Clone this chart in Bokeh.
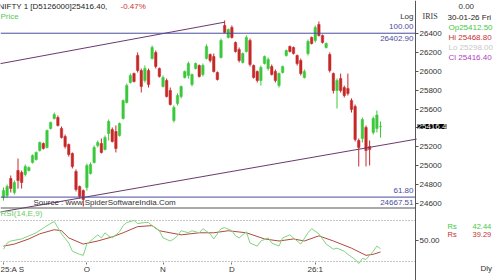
from bokeh.plotting import figure
from bokeh.models import Range1d, LinearAxis, FixedTicker, Label, ColumnDataSource
from bokeh.embed import file_html
from bokeh.resources import INLINE

# ---------------- data ----------------
opens = [24663, 24684, 24864, 24716, 24949, 24928, 24907, 24949, 25034, 25066,
         25161, 25235, 25193, 25394, 25500, 25510, 25394, 25309, 25225, 25129,
         24939, 24780, 24737, 24769, 24917, 25034, 25214, 25235, 25172, 25341,
         25383, 25362, 25320, 25500, 25669, 25881, 25976, 26167, 26008, 25902,
         26008, 26135, 26199, 26029, 25839, 25902, 25796, 25479, 25659, 25733,
         25934, 25955, 25860, 26029, 26061, 25966, 26135, 26178, 26156, 25987,
         26146, 26485, 26358, 26464, 26305, 26231, 26093, 26209, 26326, 26061,
         25998, 25902, 26082, 26029, 26050, 25998, 25849, 25987, 26167, 26262,
         26252, 26167, 26114, 25934, 26188, 26358, 26326, 26495, 26379, 26252,
         26178, 25976, 25796, 25923, 25828, 25818, 25690, 25627, 25267, 25288,
         25405, 25203, 25352, 25394, 25412.5]
highs = [24769, 24801, 24896, 24843, 25076, 24949, 25013, 24992, 25119, 25150,
         25256, 25246, 25383, 25468, 25563, 25532, 25415, 25330, 25235, 25140,
         24960, 24790, 24748, 25023, 25034, 25214, 25267, 25288, 25320, 25489,
         25405, 25426, 25457, 25701, 25870, 25976, 25987, 26199, 26029, 26061,
         26029, 26273, 26220, 26040, 25955, 25923, 25828, 25638, 25765, 25849,
         26008, 26103, 25976, 26093, 26072, 26082, 26284, 26188, 26188, 25998,
         26347, 26538, 26453, 26485, 26315, 26252, 26199, 26379, 26347, 26072,
         26008, 26061, 26167, 26146, 26072, 26019, 25987, 26061, 26231, 26273,
         26262, 26178, 26135, 26019, 26336, 26368, 26485, 26527, 26389, 26305,
         26199, 25987, 25923, 25976, 25849, 25976, 25712, 25648, 25288, 25510,
         25426, 25267, 25521, 25585, 25468.8]
lows = [24631, 24663, 24716, 24695, 24758, 24758, 24886, 24939, 25023, 25055,
        25150, 25172, 25182, 25383, 25489, 25415, 25288, 25182, 25097, 24971,
        24727, 24652, 24568, 24737, 24907, 25023, 25193, 25129, 25161, 25267,
        25246, 25140, 25309, 25489, 25659, 25870, 25881, 25987, 25775, 25881,
        25828, 26125, 26029, 25934, 25828, 25722, 25638, 25457, 25638, 25712,
        25923, 25923, 25839, 26019, 25934, 25945, 26125, 26093, 25987, 25902,
        26135, 26400, 26347, 26347, 26199, 26093, 26082, 26199, 26050, 25923,
        25881, 25849, 26072, 26008, 25955, 25881, 25828, 25976, 26156, 26199,
        26178, 26061, 25955, 25923, 26167, 26284, 26305, 26368, 26294, 26241,
        25987, 25765, 25606, 25775, 25722, 25743, 25563, 25256, 24992, 25246,
        24992, 25002, 25330, 25352, 25298]
closes = [24737, 24780, 24758, 24822, 24843, 24822, 24992, 24981, 25108, 25140,
          25246, 25182, 25373, 25457, 25542, 25426, 25299, 25203, 25119, 24992,
          24748, 24674, 24642, 25002, 25013, 25193, 25246, 25140, 25299, 25468,
          25256, 25182, 25447, 25690, 25849, 25955, 25892, 26008, 25839, 26029,
          25860, 26252, 26050, 25945, 25934, 25733, 25648, 25616, 25743, 25839,
          25998, 26082, 25966, 26082, 25945, 26061, 26262, 26114, 25998, 25913,
          26326, 26411, 26442, 26358, 26209, 26114, 26188, 26358, 26072, 25934,
          25902, 26040, 26156, 26125, 25966, 25902, 25976, 26050, 26220, 26209,
          26188, 26082, 25976, 25998, 26315, 26294, 26464, 26379, 26305, 26294,
          26008, 25796, 25902, 25796, 25743, 25765, 25595, 25277, 25193, 25489,
          25161, 25172, 25500, 25536, 25416.4]

# RSI(14) and its EMA(9) signal, read at day indices
rsi_day = [0, 1, 2, 5, 7, 9, 12, 14, 15, 16, 18, 19, 21, 22, 23, 25, 26, 27, 28, 29,
           30, 32, 33, 34, 36, 37, 39, 40, 41, 43, 44, 46, 47, 48, 49, 51, 52, 54, 55, 57,
           58, 60, 61, 63, 64, 65, 67, 68, 70, 71, 73, 74, 76, 77, 79, 80, 81, 82, 84, 85,
           87, 88, 89, 91, 92, 94, 95, 97, 98, 99, 100, 102, 103, 104]
rsi_val = [42, 48, 50, 52, 55, 58, 65, 69, 63, 57, 48, 40, 37, 36, 47, 53, 56, 53, 58, 55,
           53, 59, 65, 68, 70, 67, 68, 68, 65, 60, 53, 50, 52, 55, 60, 58, 60, 58, 62, 57,
           52, 62, 63, 60, 55, 53, 59, 48, 45, 50, 53, 48, 45, 53, 56, 53, 50, 47, 58, 62,
           57, 52, 47, 42, 43, 40, 37, 32, 28, 33, 32, 40, 45, 42.44]
sig_day = [0, 3, 7, 10, 14, 16, 18, 22, 26, 30, 33, 37, 41, 43, 49, 54, 58, 62, 67, 72,
           76, 80, 83, 87, 91, 96, 100, 102, 104]
sig_val = [45, 47, 52, 57, 61, 60, 53, 47, 50, 54, 58, 64, 65, 60, 56, 58, 58, 60, 58, 52,
           50, 52, 50, 55, 50, 43, 36, 37, 39.29]
rsi_levels = [70, 30]

# trend lines (day index, price)
upper_day = [-1, 61]
upper_px = [26080, 26520]
lower_day = [-1, 114]
lower_px = [24509, 25282]

# Fibonacci levels
fib_levels = [26402.90, 24667.51]
fib_pct = ["100.00", "61.80"]

price_ticks = [24600, 24800, 25000, 25200, 25400, 25600, 25800, 26000, 26200, 26400]
hidden_tick = 25400   # its label sits under the last-price marker
month_pos = [0, 23, 44, 63, 86]
month_lab = ["25:A S", "O", "N", "D", "26:1"]

# ---------------- layout constants ----------------
W, H = 500, 280
X_LEFT, X_RIGHT = -0.83, 137.1        # day-index span of the whole canvas
AXIS_DAY = 113.66                      # where the price scale sits (x = 415 px)
PRICE_RANGE = (23784.3, 26749.5)
RSI_RANGE = (11.46, 284.63)
PANEL_BOTTOM_PRICE = 23953.7           # bottom of the indicator pane (y = 264 px)
SEPARATOR_PRICE = 24552                # line between price and RSI panes

p = figure(width=W, height=H, output_backend="svg", toolbar_location=None,
           x_range=Range1d(X_LEFT, X_RIGHT), y_range=Range1d(*PRICE_RANGE),
           min_border_left=0, min_border_top=0, min_border_right=0, min_border_bottom=0,
           background_fill_color="white", border_fill_color="white")
p.outline_line_color = None
p.grid.visible = False
p.extra_y_ranges = {"rsi": Range1d(*RSI_RANGE)}
p.xaxis.visible = False
p.yaxis.visible = False

FONT = "Liberation Sans"

xax = LinearAxis(ticker=FixedTicker(ticks=month_pos),
                 major_label_overrides={k: v for k, v in zip(month_pos, month_lab)},
                 fixed_location=PANEL_BOTTOM_PRICE)
xax.axis_line_color = None
xax.major_tick_line_color = "#777777"
xax.major_tick_in = 2
xax.major_tick_out = 0
xax.minor_tick_line_color = None
xax.major_label_text_font = FONT
xax.major_label_text_font_size = "8px"
xax.major_label_text_color = "#333333"
xax.major_label_text_align = "left"
xax.major_label_standoff = 0
p.add_layout(xax, "below")

yax = LinearAxis(ticker=FixedTicker(ticks=price_ticks),
                 major_label_overrides={t: ("" if t == hidden_tick else str(t))
                                        for t in price_ticks},
                 fixed_location=AXIS_DAY)
yax.axis_line_color = "#555555"
yax.major_tick_line_color = "#555555"
yax.major_tick_out = 3
yax.major_tick_in = 0
yax.minor_tick_line_color = None
yax.major_label_text_font = FONT
yax.major_label_text_font_size = "8px"
yax.major_label_text_color = "#333333"
yax.major_label_standoff = 1
p.add_layout(yax, "right")

rax = LinearAxis(y_range_name="rsi", ticker=FixedTicker(ticks=[50]),
                 major_label_overrides={50: "50.00"}, fixed_location=AXIS_DAY)
rax.axis_line_color = None
rax.major_tick_line_color = "#555555"
rax.major_tick_out = 3
rax.major_tick_in = 0
rax.minor_tick_line_color = None
rax.major_label_text_font = FONT
rax.major_label_text_font_size = "8px"
rax.major_label_text_color = "#333333"
rax.major_label_standoff = 1
p.add_layout(rax, "right")

# candles
GREEN = "#3CC83C"
RED = "#C62828"
idx = list(range(len(closes)))
cols = [GREEN if c >= o else RED for o, c in zip(opens, closes)]
src = ColumnDataSource(dict(x=idx, o=opens, h=highs, l=lows, c=closes,
                            top=[max(o, c) for o, c in zip(opens, closes)],
                            bot=[min(o, c) for o, c in zip(opens, closes)],
                            col=cols))
p.segment(x0="x", y0="l", x1="x", y1="h", line_color="col", line_width=1, source=src)
p.vbar(x="x", top="top", bottom="bot", width=0.68, fill_color="col", line_color="col",
       line_width=0.5, source=src)

# trend lines
TREND = "#6A3A6E"
p.line(upper_day, upper_px, line_color=TREND, line_width=1)
p.line(lower_day, lower_px, line_color=TREND, line_width=1)

# fib levels, pane separator, RSI guide levels (chart area only: up to the price scale)
FIB = "#4B4B9E"
for lv in fib_levels:
    p.line([X_LEFT, AXIS_DAY], [lv, lv], line_color=FIB, line_width=1)
p.line([X_LEFT, AXIS_DAY], [SEPARATOR_PRICE, SEPARATOR_PRICE], line_color="#555555",
       line_width=1)
for lv in rsi_levels:
    p.line([X_LEFT, AXIS_DAY], [lv, lv], y_range_name="rsi", line_color="#8C8C8C",
           line_width=1, line_dash="1 2")

p.line(sig_day, sig_val, y_range_name="rsi", line_color="#B04A3C", line_width=1)
p.line(rsi_day, rsi_val, y_range_name="rsi", line_color="#7FD67F", line_width=1)


def lab(text, x, y, color, size="8px", align="left", font=FONT, baseline="middle", **kw):
    return Label(x=x, y=H - y, x_units="screen", y_units="screen", text=text,
                 text_color=color, text_font_size=size, text_align=align,
                 text_baseline=baseline, text_font=font, **kw)


labels = [
    lab("NIFTY 1 [D5126000]25416.40,", -2, 1, "#222222", baseline="top"),
    lab("-0.47%", 120, 1, "#D03030", baseline="top"),
    lab("Price", 0, 16, "#55C855"),
    lab("Log", 413, 16, "#333333", align="right"),
    lab(fib_pct[0], 413, 26, FIB, align="right"),
    lab("%.2f" % fib_levels[0], 413, 38, FIB, align="right"),
    lab(fib_pct[1], 413, 190, FIB, align="right"),
    lab("%.2f" % fib_levels[1], 413, 201.5, FIB, align="right"),
    lab("Source : www.SpiderSoftwareIndia.Com", 33, 202, "#333333"),
    lab("RSI(14,E,9)", 0, 213, "#66CC66"),
    lab("IRIS", 422, 16, "#333333", font="Liberation Serif"),
    lab("0.00", 458, 6, "#333333"),
    lab("30-01-26 Fri", 447, 17, "#222222"),
    lab("Op%.2f" % opens[-1], 448, 26.5, "#44C844"),
    lab("Hi  %.2f" % highs[-1], 448, 37, "#C83232"),
    lab("Lo  %.2f" % lows[-1], 448, 47, "#C8C8C8"),
    lab("Cl  %.2f" % closes[-1], 448, 57, "#B040C0"),
    lab("Rs", 447, 226, "#44C844", size="7.5px"),
    lab("%.2f" % rsi_val[-1], 472, 226, "#44C844", size="7.5px"),
    lab("Rs", 447, 233.5, "#C83232", size="7.5px"),
    lab("%.2f" % sig_val[-1], 472, 233.5, "#C83232", size="7.5px"),
    lab("Dly", 480, 268, "#333333"),
]
for lb in labels:
    p.add_layout(lb)

p.add_layout(Label(x=417, x_units="screen", y=closes[-1], y_units="data",
                   text="%.1f" % closes[-1], text_color="white", text_font=FONT,
                   text_font_size="8px", text_baseline="middle",
                   background_fill_color="black", level="overlay"))

open("out.html", "w").write(file_html(p, INLINE))
